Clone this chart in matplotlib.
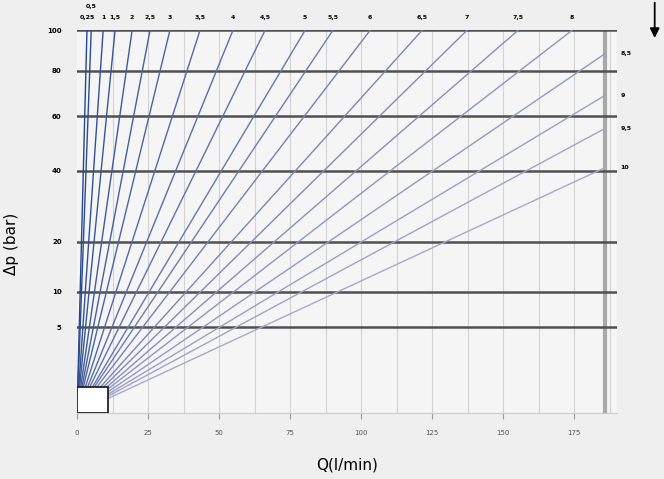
import numpy as np
import matplotlib.pyplot as plt
from matplotlib.patches import Rectangle

# orifice diameters and the flow (l/min) each line reaches at 100 bar
diam_labels = ['0,25', '0,5', '1', '1,5', '2', '2,5', '3', '3,5', '4', '4,5', '5', '5,5',
               '6', '6,5', '7', '7,5', '8', '8,5', '9', '9,5', '10']
q_at_100 = [3.5, 5.0, 9.2, 13.4, 19.4, 25.7, 32.7, 43.3, 54.9, 66.2, 80.3, 90.1,
            103.2, 121.5, 137.3, 155.3, 174.3, 198, 224, 250, 290]

y_ticks = [5, 10, 20, 40, 60, 80, 100]
x_ticks = [0, 25, 50, 75, 100, 125, 150, 175]
q_edge = 186      # thick right border of the chart
q_max = 190
box_q = 11
box_dp = 0.46

fig = plt.figure(figsize=(6.64, 4.79), dpi=100, facecolor='#efefef')
ax = fig.add_axes([0.116, 0.138, 0.813, 0.799])
ax.set_facecolor('#f5f5f5')

ax.set_yscale('function', functions=(lambda v: np.sqrt(np.clip(v, 0, None)), lambda v: v ** 2))
ax.set_ylim(0, 100)
ax.set_xlim(0, q_max)

# vertical thin grid
for q in np.arange(12.5, q_max, 12.5):
    ax.axvline(q, color='#d2d2d2', lw=0.8, zorder=1)
ax.axvline(q_edge, color='#a8a8a8', lw=3, zorder=2)

# horizontal lines at the pressure ticks
for p in y_ticks:
    ax.axhline(p, color='#505050', lw=1.8, zorder=3)

# the orifice lines
n = len(diam_labels)
dark = np.array([0.14, 0.28, 0.56])
light = np.array([0.66, 0.66, 0.80])
dp = np.linspace(0, 100, 400)
for i, (lab, q100) in enumerate(zip(diam_labels, q_at_100)):
    t = i / (n - 1)
    col = dark * (1 - t) + light * t
    q = q100 * np.sqrt(dp / 100)
    keep = q <= q_edge
    ax.plot(q[keep], dp[keep], color=col, lw=1.0, zorder=4, solid_capstyle='butt')
    if q100 <= q_edge:
        yoff = 15 if lab == '0,5' else 7
        ax.annotate(lab, (q100, 100), xytext=(0, yoff), textcoords='offset points',
                    ha='center', va='bottom', fontsize=4.5, fontweight='bold', annotation_clip=False)
    else:
        p_end = (q_edge / q100) ** 2 * 100
        ax.annotate(lab, (q_edge, p_end), xytext=(11, 0), textcoords='offset points',
                    ha='left', va='center', fontsize=4.5, fontweight='bold', annotation_clip=False)

ax.add_patch(Rectangle((0, 0), box_q, box_dp, facecolor='white', edgecolor='#222222', lw=1.3, zorder=6))

ax.set_yticks(y_ticks)
ax.set_yticklabels([str(v) for v in y_ticks], fontsize=5, fontweight='bold')
ax.tick_params(axis='y', length=0, pad=11)
ax.set_xticks(x_ticks)
ax.set_xticklabels([str(v) for v in x_ticks], fontsize=5, color='#555555')
ax.tick_params(axis='x', length=4, color='#999999', pad=8)

for s in ['top', 'right', 'left']:
    ax.spines[s].set_visible(False)
ax.spines['bottom'].set_color('#cccccc')

ax.set_xlabel('Q(l/min)', fontsize=11, labelpad=16)
fig.text(0.018, 0.49, 'Δp (bar)', rotation=90, fontsize=11, va='center', ha='center')

# arrow top right
fig.add_artist(plt.Annotation('', xy=(0.986, 0.915), xytext=(0.986, 1.0), xycoords='figure fraction',
                              arrowprops=dict(arrowstyle='-|>', color='black', lw=1.3, mutation_scale=14)))

fig.savefig('out.png', dpi=100, facecolor=fig.get_facecolor())
